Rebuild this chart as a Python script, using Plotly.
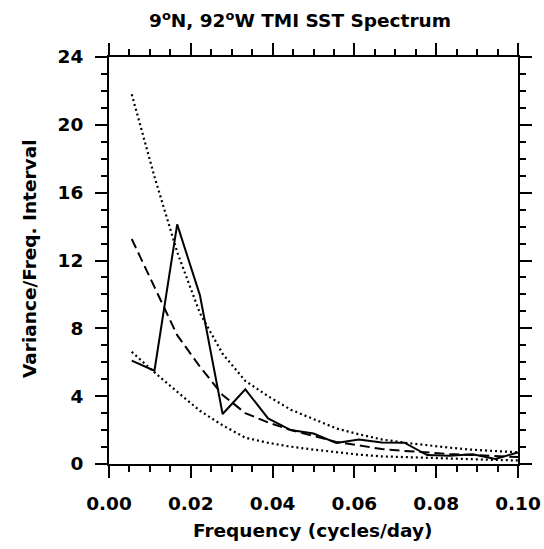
import plotly.graph_objects as go

# Frequencies (cycles/day): k/180, k = 1..18
freq = [0.00556, 0.01111, 0.01667, 0.02222, 0.02778, 0.03333, 0.03889, 0.04444, 0.05000,
        0.05556, 0.06111, 0.06667, 0.07222, 0.07778, 0.08333, 0.08889, 0.09444, 0.10000]

spectrum = [6.1, 5.5, 14.13, 9.96, 2.95, 4.40, 2.69, 2.0, 1.8,
            1.24, 1.45, 1.27, 1.26, 0.53, 0.49, 0.57, 0.30, 0.68]

red_noise = [13.27, 10.4, 7.6, 5.74, 4.07, 3.0, 2.45, 2.0, 1.65,
             1.3, 1.1, 0.88, 0.77, 0.67, 0.59, 0.53, 0.47, 0.41]

upper_conf = [21.8, 16.95, 12.5, 8.9, 6.5, 4.9, 4.0, 3.2, 2.65,
              2.1, 1.75, 1.45, 1.26, 1.1, 0.96, 0.84, 0.77, 0.69]

lower_conf = [6.62, 5.4, 4.26, 3.14, 2.28, 1.55, 1.25, 1.02, 0.85,
              0.68, 0.55, 0.45, 0.40, 0.35, 0.31, 0.27, 0.24, 0.21]

x_ticks = [0.00, 0.02, 0.04, 0.06, 0.08, 0.10]
x_tick_labels = ["0.00", "0.02", "0.04", "0.06", "0.08", "0.10"]
y_ticks = [0, 4, 8, 12, 16, 20, 24]
y_tick_labels = ["0", "4", "8", "12", "16", "20", "24"]

FONT = "DejaVu Sans"
W, H = 544, 549
L, R, T, B = 109, 26, 57, 85
PW, PH = W - L - R, H - T - B

fig = go.Figure()
fig.add_trace(go.Scatter(x=freq, y=spectrum, mode="lines",
                         line=dict(color="black", width=2)))
fig.add_trace(go.Scatter(x=freq, y=red_noise, mode="lines",
                         line=dict(color="black", width=2, dash="10px,5px")))
fig.add_trace(go.Scatter(x=freq, y=upper_conf, mode="lines",
                         line=dict(color="black", width=2.2, dash="2px,3px")))
fig.add_trace(go.Scatter(x=freq, y=lower_conf, mode="lines",
                         line=dict(color="black", width=2.2, dash="2px,3px")))

axis_common = dict(
    showline=True, linecolor="black", linewidth=2, mirror="allticks",
    ticks="outside", ticklen=12, tickwidth=2, tickcolor="black",
    showgrid=False, zeroline=False, automargin=False,
    tickfont=dict(family=FONT, size=18.5, color="black", weight="bold"),
)

fig.update_xaxes(
    range=[0, 0.1], tickvals=x_ticks, ticktext=x_tick_labels,
    minor=dict(dtick=0.005, ticklen=6, tickwidth=1.5, tickcolor="black", ticks="outside"),
    ticklabelstandoff=10,
    **axis_common,
)
fig.update_yaxes(
    range=[0, 24], tickvals=y_ticks, ticktext=y_tick_labels,
    minor=dict(dtick=1, ticklen=6, tickwidth=1.5, tickcolor="black", ticks="outside"),
    ticklabelstandoff=8,
    **axis_common,
)

title_font = dict(family=FONT, size=18.5, color="black", weight="bold")
fig.add_annotation(text="Frequency (cycles/day)", xref="paper", yref="paper",
                   x=(313 - L) / PW, y=(T + PH - 530) / PH,
                   xanchor="center", yanchor="middle", showarrow=False, font=title_font)
fig.add_annotation(text="Variance/Freq. Interval", xref="paper", yref="paper",
                   x=(29 - L) / PW, y=(T + PH - 259) / PH, textangle=-90,
                   xanchor="center", yanchor="middle", showarrow=False, font=title_font)

fig.update_layout(
    width=W, height=H,
    margin=dict(l=L, r=R, t=T, b=B),
    paper_bgcolor="white", plot_bgcolor="white",
    showlegend=False,
    title=dict(text="9<sup>o</sup>N, 92<sup>o</sup>W TMI SST Spectrum",
               font=title_font,
               x=300 / W, xanchor="center", y=1 - 21 / H, yanchor="middle"),
)

fig.write_html(
    "out.html",
    config={"displayModeBar": False},
    post_script="document.body.style.margin='0';document.body.style.overflow='hidden';",
)
